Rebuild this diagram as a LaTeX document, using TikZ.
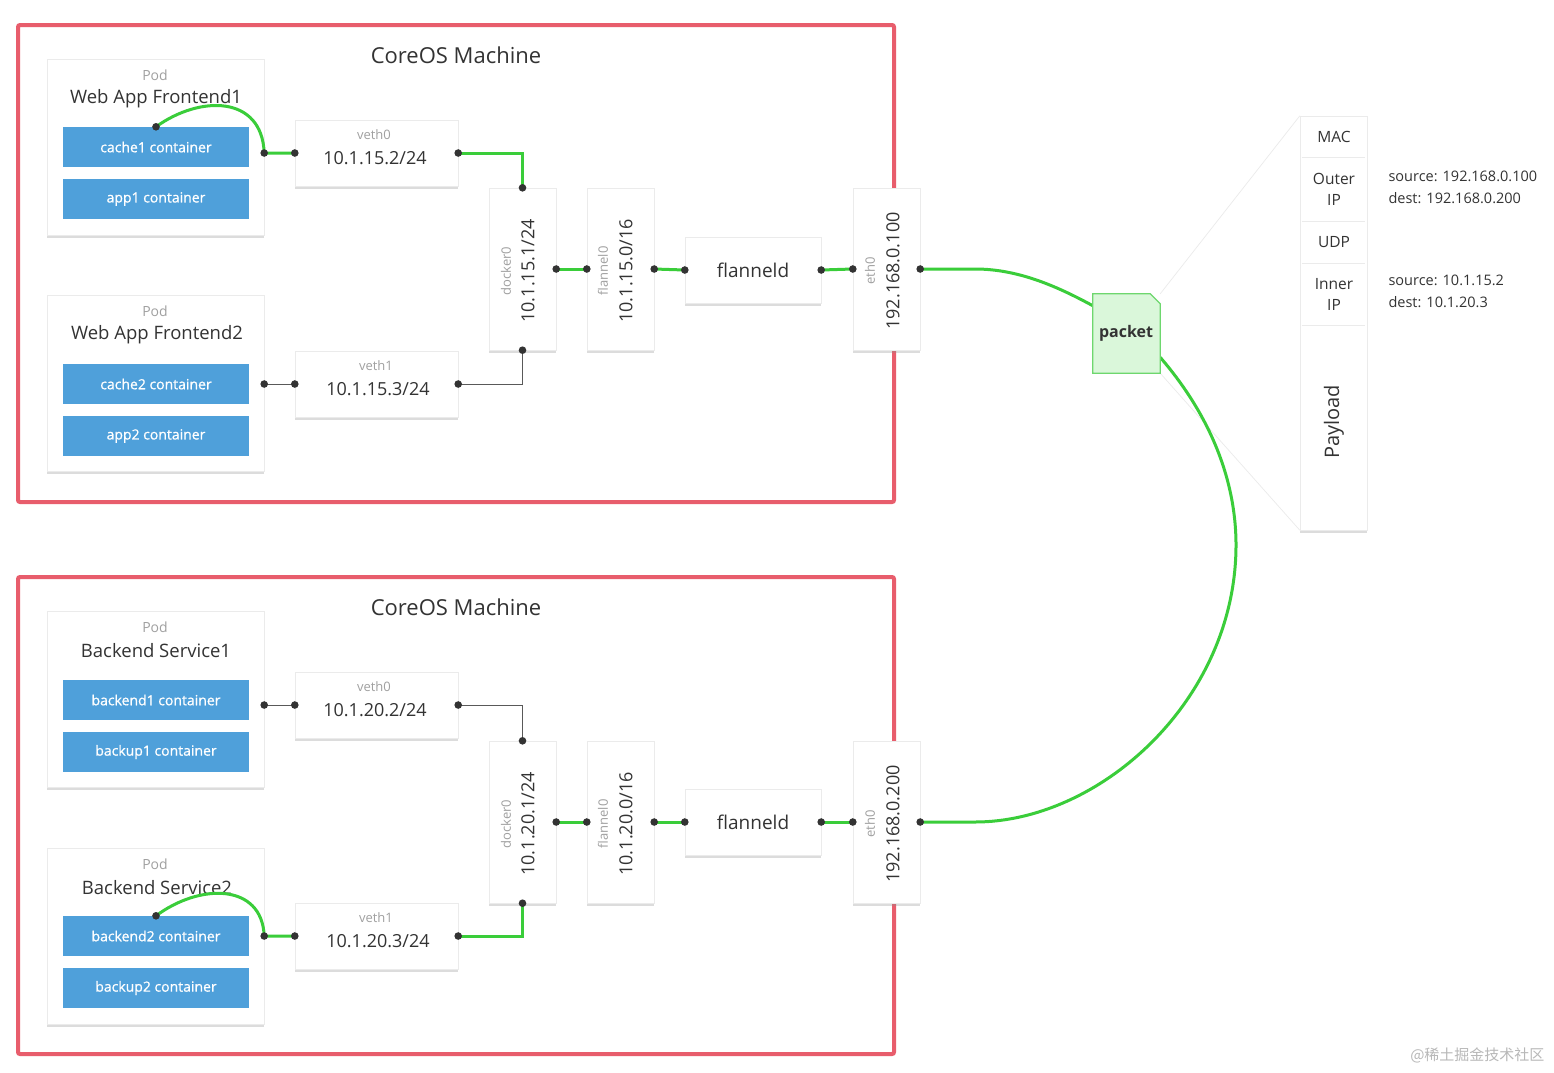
\documentclass[tikz,border=0pt]{standalone}
\usepackage{fontspec}
\setmainfont{Open Sans}
\newfontfamily\contfont[FakeBold=0.8]{Open Sans}
\newfontfamily\cjkfont{Noto Sans CJK SC}
\usetikzlibrary{shadows,calc}
\definecolor{framec}{RGB}{232,93,108}
\definecolor{cblue}{RGB}{79,160,218}
\definecolor{lgreen}{RGB}{58,205,58}
\definecolor{dotc}{RGB}{51,51,51}
\definecolor{pktfill}{RGB}{218,247,218}
\definecolor{pktline}{RGB}{110,215,110}
\definecolor{txt}{RGB}{51,51,51}
\definecolor{lbl}{RGB}{160,160,160}
\tikzset{
  machine/.style={draw=framec, line width=4pt, rounded corners=2pt},
  wbox/.style={draw=black!8, fill=white, inner sep=0pt,
    drop shadow={shadow xshift=0pt, shadow yshift=-2.5pt, opacity=0.3, fill=black!45}},
  podbox/.style={wbox, minimum width=217pt, minimum height=176pt},
  vethbox/.style={wbox, minimum width=163pt, minimum height=66pt},
  tallbox/.style={wbox, minimum width=67pt, minimum height=162pt},
  flbox/.style={wbox, minimum width=136pt, minimum height=66pt, text=txt, font=\fontsize{19}{23}\selectfont},
  cont/.style={fill=cblue, minimum width=186pt, minimum height=40pt, inner sep=0pt, text=white, font=\contfont\fontsize{14}{17}\selectfont},
  podlbl/.style={text=lbl, font=\fontsize{14}{17}\selectfont},
  podttl/.style={text=txt, font=\fontsize{18.5}{23}\selectfont},
  mtitle/.style={text=txt, font=\fontsize{22}{26}\selectfont},
  smalllbl/.style={text=lbl, font=\fontsize{13}{15}\selectfont},
  iplbl/.style={text=txt, font=\fontsize{18}{22}\selectfont},
  celllbl/.style={text=txt, font=\fontsize{15.5}{21}\selectfont, align=center},
  infotxt/.style={text=txt, font=\fontsize{14.5}{22}\selectfont, align=left, anchor=west},
  gline/.style={draw=lgreen, line width=3pt},
  tline/.style={draw=black!65, line width=0.8pt},
  faint/.style={draw=black!8, line width=0.7pt},
  sepline/.style={draw=black!8, line width=1pt},
}
\begin{document}
\begin{tikzpicture}[x=1pt,y=-1pt]
\useasboundingbox[fill=white] (0,0) rectangle (1554,1072);

% ---------------- top machine ----------------
\draw[machine] (18,25) rectangle (894,502);
\node[mtitle] (title1) at (456,55) {CoreOS Machine};

\node[podbox] (pod1) at (155.5,147) {};
\node[podlbl] (pod1l) at (155,75) {Pod};
\node[podttl] (pod1t) at (156,99) {Web App Frontend1};
\node[cont] (cache1) at (156,147) {cache1 container};
\node[cont] (app1) at (156,199) {app1 container};

\node[podbox] (pod2) at (155.5,383) {};
\node[podlbl] (pod2l) at (155,311) {Pod};
\node[podttl] (pod2t) at (157,335) {Web App Frontend2};
\node[cont] (cache2) at (156,384) {cache2 container};
\node[cont] (app2) at (156,436) {app2 container};

\node[vethbox] (veth0) at (376.5,153) {};
\node[smalllbl] (veth0l) at (374,135) {veth0};
\node[iplbl] (veth0ip) at (375,158) {10.1.15.2/24};
\node[vethbox] (veth1) at (376.5,384) {};
\node[smalllbl] (veth1l) at (376,366) {veth1};
\node[iplbl] (veth1ip) at (378,389) {10.1.15.3/24};

\node[tallbox] (docker0) at (522.5,269) {};
\node[smalllbl, rotate=90] (docker0l) at (506,271) {docker0};
\node[iplbl, rotate=90] (docker0ip) at (528,271) {10.1.15.1/24};
\node[tallbox] (flannel0) at (620.5,269) {};
\node[smalllbl, rotate=90] (flannel0l) at (603,271) {flannel0};
\node[iplbl, rotate=90] (flannel0ip) at (626,271) {10.1.15.0/16};
\node[flbox] (flanneld) at (753,270) {flanneld};
\node[tallbox] (eth0) at (886.5,269) {};
\node[smalllbl, rotate=90] (eth0l) at (870,271) {eth0};
\node[iplbl, rotate=90] (eth0ip) at (893,271) {192.168.0.100};

\coordinate (p1o) at (pod1.east |- veth0.west);
\coordinate (p2o) at (pod2.east |- veth1.west);

\draw[gline] (cache1.north) .. controls (200,95) and (262,95) .. (p1o) -- (veth0.west);
\draw[gline] (veth0.east) -| (docker0.north);
\draw[tline] (p2o) -- (veth1.west);
\draw[tline] (veth1.east) -| (docker0.south);
\draw[gline] (docker0.east) -- (flannel0.west);
\draw[gline] (flannel0.east) -- (flanneld.west);
\draw[gline] (flanneld.east) -- (eth0.west);

% ---------------- bottom machine ----------------
\draw[machine] (18,577) rectangle (894,1054);
\node[mtitle] (title2) at (456,607) {CoreOS Machine};

\node[podbox] (pod3) at (155.5,699) {};
\node[podlbl] (pod3l) at (155,627) {Pod};
\node[podttl] (pod3t) at (156,651) {Backend Service1};
\node[cont] (backend1) at (156,700) {backend1 container};
\node[cont] (backup1) at (156,752) {backup1 container};

\node[podbox] (pod4) at (155.5,936) {};
\node[podlbl] (pod4l) at (155,864) {Pod};
\node[podttl] (pod4t) at (157,888) {Backend Service2};
\node[cont] (backend2) at (156,936) {backend2 container};
\node[cont] (backup2) at (156,988) {backup2 container};

\node[vethbox] (veth0b) at (376.5,705) {};
\node[smalllbl] (veth0bl) at (374,687) {veth0};
\node[iplbl] (veth0bip) at (375,710) {10.1.20.2/24};
\node[vethbox] (veth1b) at (376.5,936) {};
\node[smalllbl] (veth1bl) at (376,918) {veth1};
\node[iplbl] (veth1bip) at (378,941) {10.1.20.3/24};

\node[tallbox] (docker0b) at (522.5,822) {};
\node[smalllbl, rotate=90] (docker0bl) at (506,824) {docker0};
\node[iplbl, rotate=90] (docker0bip) at (528,824) {10.1.20.1/24};
\node[tallbox] (flannel0b) at (620.5,822) {};
\node[smalllbl, rotate=90] (flannel0bl) at (603,824) {flannel0};
\node[iplbl, rotate=90] (flannel0bip) at (626,824) {10.1.20.0/16};
\node[flbox] (flanneldb) at (753,822) {flanneld};
\node[tallbox] (eth0b) at (886.5,822) {};
\node[smalllbl, rotate=90] (eth0bl) at (870,824) {eth0};
\node[iplbl, rotate=90] (eth0bip) at (893,824) {192.168.0.200};

\coordinate (p3o) at (pod3.east |- veth0b.west);
\coordinate (p4o) at (pod4.east |- veth1b.west);

\draw[tline] (p3o) -- (veth0b.west);
\draw[tline] (veth0b.east) -| (docker0b.north);
\draw[gline] (backend2.north) .. controls (200,883) and (262,883) .. (p4o) -- (veth1b.west);
\draw[gline] (veth1b.east) -| (docker0b.south);
\draw[gline] (docker0b.east) -- (flannel0b.west);
\draw[gline] (flannel0b.east) -- (flanneldb.west);
\draw[gline] (flanneldb.east) -- (eth0b.west);

% ---------------- packet ----------------
\node[wbox, minimum width=67pt, minimum height=414pt] (stack) at (1333.5,323) {};
\node[minimum width=67pt, minimum height=79pt, inner sep=0pt] (packet) at (1126.5,333.5) {};
\draw[faint] (packet.north east) -- (stack.north west);
\draw[faint] (packet.south east) -- (stack.south west);
\coordinate (pktL) at ($(packet.north west)!0.15!(packet.south west)$);
\coordinate (pktR) at ($(packet.north east)!0.8!(packet.south east)$);

\draw[gline] (eth0.east) -- ++(55,0) .. controls (1020,269) and (1060,288) .. (pktL);
\draw[gline] (pktR) .. controls (1210,415) and (1236,480) .. (1236,545)
  .. controls (1236,700) and (1100,822) .. (975,822) -- (eth0b.east);

\filldraw[fill=pktfill, draw=pktline, line width=1.2pt]
  (packet.south west) -- (packet.north west) -- ($(packet.north east)+(-10,0)$)
  -- ($(packet.north east)+(0,10)$) -- (packet.south east) -- cycle;
\node[text=txt, font=\bfseries\fontsize{16}{19}\selectfont] (packett) at (1126,333) {packet};

\foreach \yy in {157,221,263,325}
  \draw[sepline] ($(stack.west |- 0,\yy)+(2,0)$) -- ($(stack.east |- 0,\yy)+(-2,0)$);
\node[celllbl] (mac) at (1334,137) {MAC};
\node[celllbl] (outer) at (1334,189) {Outer\\IP};
\node[celllbl] (udp) at (1334,242) {UDP};
\node[celllbl] (inner) at (1334,294) {Inner\\IP};
\node[text=txt, font=\fontsize{20}{24}\selectfont, rotate=90] (payload) at (1334,422) {Payload};

\node[infotxt] (outerinfo) at (1385,187) {source: 192.168.0.100\\dest: 192.168.0.200};
\node[infotxt] (innerinfo) at (1385,291) {source: 10.1.15.2\\dest: 10.1.20.3};

% ---------------- dots ----------------
\foreach \p in {cache1.north, p1o, veth0.west, veth0.east, docker0.north, docker0.south,
  p2o, veth1.west, veth1.east, docker0.east, flannel0.west, flannel0.east, flanneld.west,
  flanneld.east, eth0.west, eth0.east,
  p3o, veth0b.west, veth0b.east, docker0b.north, docker0b.south,
  backend2.north, p4o, veth1b.west, veth1b.east, docker0b.east, flannel0b.west, flannel0b.east,
  flanneldb.west, flanneldb.east, eth0b.west, eth0b.east}
  \fill[dotc] (\p) circle[radius=3.8pt];

\node[text=black!28, font=\cjkfont\fontsize{15}{18}\selectfont, anchor=east] (wm) at (1548,1055) {@稀土掘金技术社区};
\end{tikzpicture}
\end{document}
